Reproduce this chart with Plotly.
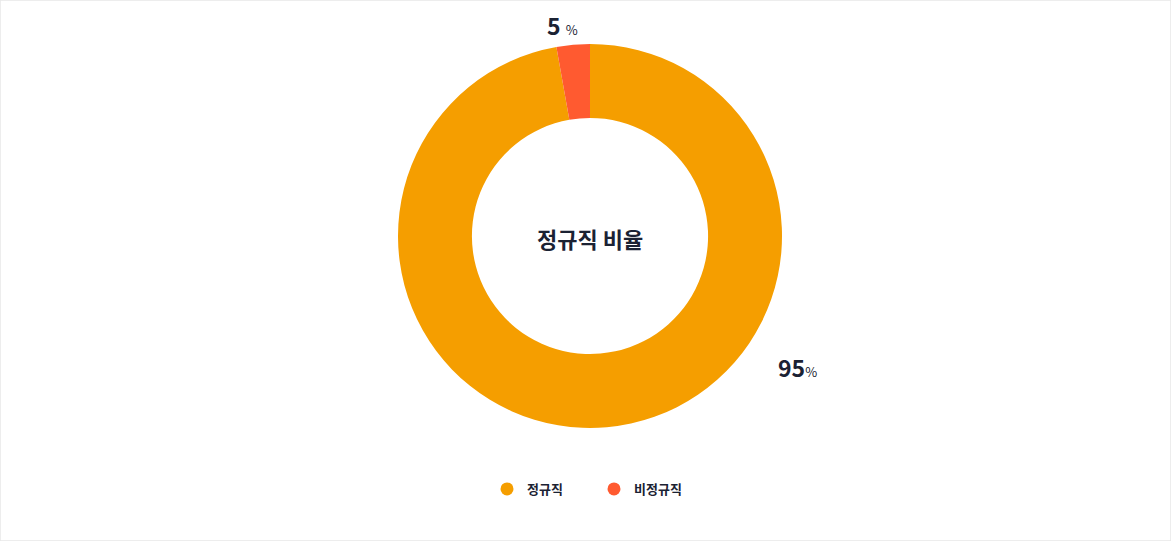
import plotly.graph_objects as go

categories = ["정규직", "비정규직"]
values = [97.2, 2.8]
label_numbers = ["95", "5"]
colors = ["#F59E00", "#FF5A30"]
center_title = "정규직 비율"

W, H = 1171, 541
FONT = "Noto Sans CJK KR, Noto Sans, sans-serif"
TXT = "#1B2233"

fig = go.Figure()
fig.add_trace(go.Pie(
    labels=categories, values=values, hole=0.615,
    sort=False, direction="clockwise", rotation=0,
    marker=dict(colors=colors, line=dict(width=0)),
    textinfo="none", hoverinfo="label+percent",
    showlegend=False,
    domain=dict(x=[398 / W, 782 / W], y=[(H - 428) / H, (H - 44) / H]),
))
for c, col in zip(categories, colors):
    fig.add_trace(go.Scatter(
        x=[None], y=[None], mode="markers", name=c,
        marker=dict(symbol="circle", size=13, color=col),
    ))

common = dict(xref="paper", yref="paper", showarrow=False,
              xanchor="center", yanchor="middle")
fig.add_annotation(text=f"<b>{center_title}</b>", x=590 / W, y=(H - 238) / H,
                   font=dict(size=22, color=TXT, family=FONT), **common)
fig.add_annotation(
    text=f"<b>{label_numbers[1]}</b> <span style='font-size:13px'>%</span>",
    x=562 / W, y=(H - 25) / H,
    font=dict(size=23, color=TXT, family=FONT), **common)
fig.add_annotation(
    text=f"<b>{label_numbers[0]}</b><span style='font-size:13px'>%</span>",
    x=797 / W, y=(H - 367) / H,
    font=dict(size=23, color=TXT, family=FONT), **common)

fig.add_shape(type="rect", xref="paper", yref="paper", x0=0, y0=0, x1=1, y1=1,
              line=dict(color="#E8E8E8", width=1.5), layer="above")

fig.update_layout(
    width=W, height=H,
    margin=dict(l=0, r=0, t=0, b=0),
    paper_bgcolor="white", plot_bgcolor="white",
    font=dict(family=FONT, color=TXT),
    xaxis=dict(visible=False), yaxis=dict(visible=False),
    legend=dict(orientation="h", x=594 / W, xanchor="center",
                y=(H - 489) / H, yanchor="middle",
                font=dict(size=13, color=TXT, family=FONT, weight="bold"),
                entrywidth=62, entrywidthmode="pixels",
                bgcolor="rgba(0,0,0,0)"),
)

fig.write_html("out.html", config={"displayModeBar": False},
               post_script="document.body.style.margin='0';")
